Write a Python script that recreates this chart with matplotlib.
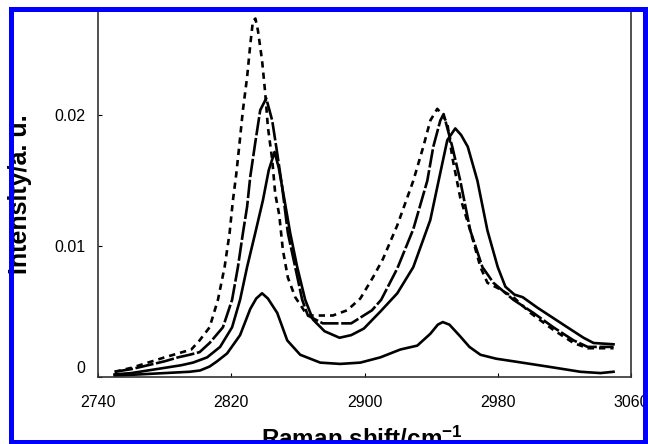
import matplotlib
matplotlib.use("Agg")
import matplotlib.pyplot as plt
from matplotlib.patches import Rectangle
from matplotlib.transforms import ScaledTranslation

plt.rcParams['font.family'] = ['Liberation Sans', 'DejaVu Sans']
plt.rcParams['mathtext.fontset'] = 'custom'
plt.rcParams['mathtext.rm'] = 'Liberation Sans'
plt.rcParams['mathtext.default'] = 'regular'

# Raman spectra (shift in cm-1, intensity in a.u.)
shift_a = [2750, 2760, 2770, 2780, 2788, 2796, 2801, 2807, 2812, 2816, 2819, 2821, 2823,
           2825, 2827, 2829.5, 2831.5, 2833, 2834.5, 2836, 2838.5, 2840.4, 2842, 2844.6,
           2846.4, 2848.8, 2851, 2854, 2858.4, 2862.6, 2865.6, 2873, 2881, 2889.6, 2897.5,
           2905, 2911, 2919.7, 2929.3, 2935.3, 2939.5, 2943.7, 2947, 2949.7, 2952.7,
           2957.5, 2963.5, 2969.6, 2973.8, 2980, 2989.4, 2999.6, 3013.4, 3025.5, 3034, 3049.5]
inten_a = [0.0004, 0.0007, 0.0011, 0.0015, 0.0018, 0.0021, 0.0028, 0.0038, 0.0059, 0.0084,
           0.0110, 0.0135, 0.0155, 0.0179, 0.0204, 0.0229, 0.0255, 0.0272, 0.0274, 0.0265,
           0.0242, 0.0217, 0.0191, 0.0166, 0.0140, 0.0124, 0.0097, 0.0076, 0.0061, 0.0053,
           0.0047, 0.0047, 0.0047, 0.0051, 0.0060, 0.0076, 0.0090, 0.0116, 0.0150, 0.0176,
           0.0196, 0.0205, 0.0200, 0.0194, 0.0168, 0.0137, 0.0112, 0.0084, 0.0072, 0.0068,
           0.0061, 0.0049, 0.0036, 0.0026, 0.0022, 0.0022]

shift_b = [2750, 2760, 2770, 2780, 2788, 2795, 2801, 2807, 2815, 2820.5, 2824, 2827, 2829.5,
           2831.4, 2834.4, 2837.4, 2841, 2844.6, 2847.6, 2850.6, 2854, 2858.4, 2862.6, 2866,
           2870.4, 2875, 2892, 2904.5, 2910, 2919.7, 2929.3, 2937.7, 2941.3, 2945.5, 2947.5,
           2952.7, 2957.5, 2963.5, 2970.8, 2977.4, 2989.4, 3001.4, 3013.4, 3025.5, 3034, 3049.5]
inten_b = [0.0004, 0.0006, 0.0009, 0.0012, 0.0015, 0.0017, 0.0019, 0.0026, 0.0038, 0.0059,
           0.0084, 0.0110, 0.0130, 0.0153, 0.0179, 0.0204, 0.0213, 0.0196, 0.0171, 0.0145,
           0.0110, 0.0084, 0.0059, 0.0047, 0.0044, 0.0041, 0.0041, 0.0051, 0.0059, 0.0083,
           0.0113, 0.0150, 0.0176, 0.0196, 0.0201, 0.0176, 0.0150, 0.0112, 0.0084, 0.0072,
           0.0059, 0.0049, 0.0038, 0.0028, 0.0023, 0.0023]

shift_c = [2750, 2760, 2770, 2780, 2790, 2797, 2801.3, 2805.5, 2813.3, 2820.5, 2825.3, 2829.5,
           2834.4, 2839, 2842.5, 2846, 2848.5, 2852, 2855.4, 2859.6, 2864.4, 2869, 2876, 2885,
           2892, 2899.6, 2909.5, 2919.7, 2929.3, 2939.5, 2945.5, 2949.7, 2954.5, 2958, 2962,
           2967.8, 2973.8, 2980, 2984.6, 2990, 2995, 3003.8, 3013.4, 3021.8, 3031.5, 3037.5, 3049.5]
inten_c = [0.0002, 0.0003, 0.0005, 0.0007, 0.0009, 0.0011, 0.0013, 0.0015, 0.0023, 0.0038,
           0.0059, 0.0084, 0.0110, 0.0135, 0.0158, 0.0172, 0.0160, 0.0135, 0.0110, 0.0084,
           0.0059, 0.0044, 0.0035, 0.0030, 0.0032, 0.0037, 0.0050, 0.0064, 0.0084, 0.0120,
           0.0156, 0.0181, 0.0190, 0.0185, 0.0176, 0.0150, 0.0112, 0.0084, 0.0069, 0.0063,
           0.0061, 0.0053, 0.0045, 0.0038, 0.0030, 0.0026, 0.0025]

shift_d = [2750, 2765, 2780, 2795, 2801.3, 2807, 2811.5, 2817.5, 2825.3, 2831.4, 2835, 2838.5,
           2842, 2847.6, 2853.6, 2861.4, 2873.4, 2885.4, 2897.5, 2909.5, 2921.5, 2931.7,
           2939.5, 2944, 2947, 2951, 2957.5, 2963, 2969.6, 2979, 2989.4, 3009.8, 3029.6,
           3041.7, 3049.5]
inten_d = [0.0001, 0.0002, 0.0003, 0.0004, 0.0005, 0.0008, 0.0012, 0.0018, 0.0032, 0.0052,
           0.0060, 0.0064, 0.0060, 0.0049, 0.0028, 0.0017, 0.0011, 0.0010, 0.0011, 0.0015,
           0.0021, 0.0024, 0.0033, 0.0040, 0.0042, 0.0040, 0.0031, 0.0023, 0.0017, 0.0014,
           0.0012, 0.0008, 0.0004, 0.0003, 0.0004]

x_ticks = [2740, 2820, 2900, 2980, 3060]
y_ticks = [0, 0.01, 0.02]
y_ticklabels = ['0', '0.01', '0.02']

W, H = 648, 444
fig = plt.figure(figsize=(W / 100, H / 100), dpi=100)
ax = fig.add_axes([98 / W, (H - 377) / H, (631 - 98) / W, (377 - 12) / H])

lw = 1.9
ax.plot(shift_d, inten_d, color='black', lw=lw)
ax.plot(shift_c, inten_c, color='black', lw=lw)
ax.plot(shift_b, inten_b, color='black', lw=lw, linestyle=(0, (7, 1.0)))
ax.plot(shift_a, inten_a, color='black', lw=lw, linestyle=(0, (2.4, 1.9)))

ax.set_xlim(2740, 3060)
ax.set_ylim(0, 0.0279)
ax.set_xticks(x_ticks)
ax.set_yticks(y_ticks)
ax.set_yticklabels(y_ticklabels)
ax.tick_params(axis='both', direction='in', length=3, width=0.8, labelsize=11.5, colors='black')
ax.tick_params(axis='x', pad=13)
ax.tick_params(axis='y', pad=9)
ax.spines['top'].set_visible(False)
for s in ['left', 'right', 'bottom']:
    ax.spines[s].set_color('#333333')
    ax.spines[s].set_linewidth(1.2)

# the "0" label sits a little above its tick in the original
zero_lab = ax.yaxis.get_major_ticks()[0].label1
zero_lab.set_transform(zero_lab.get_transform() + ScaledTranslation(0, 0.1, fig.dpi_scale_trans))

fig.text(20 / W, (H - 194) / H, 'Intensity/a. u.', rotation=90, ha='center', va='center',
         fontsize=18, fontweight='bold')
fig.text(362 / W, (H - 447) / H, r'Raman shift/cm$^{-1}$', ha='center', va='baseline',
         fontsize=17.5, fontweight='bold')

# blue frame round the picture
fig.patches.append(Rectangle((10.5 / W, (H - 441.5) / H), (644.5 - 10.5) / W, (441.5 - 9.5) / H,
                             transform=fig.transFigure, fill=False, edgecolor='#0000ff',
                             linewidth=3.6, zorder=10))

fig.savefig('out.png', dpi=100)
